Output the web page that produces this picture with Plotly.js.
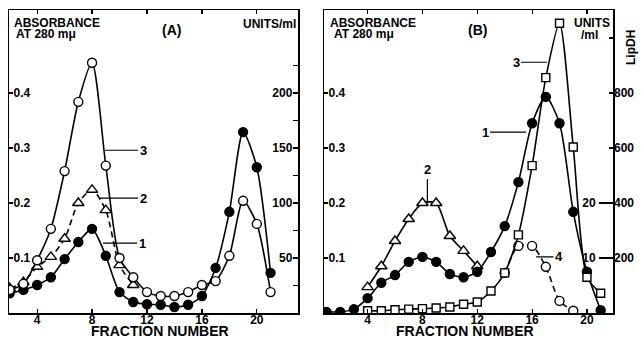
<!DOCTYPE html>
<html><head><meta charset="utf-8">
<script src="https://cdn.plot.ly/plotly-3.0.1.min.js"></script>
<style>html,body{margin:0;padding:0;background:#fff}#c{width:642px;height:341px}</style>
</head><body><div id="c"></div>
<script>
// Panel A (absorbance-scale values, fraction number)
const fracA = [2,3,4,5,6,7,8,9,10,11,12,13,14,15,16,17,18,19,20,21];
const a1 = [0.036,0.042,0.051,0.065,0.098,0.129,0.153,0.104,0.038,0.020,0.016,0.015,0.011,0.015,0.031,0.082,0.184,0.329,0.265,0.073];
const a3 = [0.042,0.053,0.096,0.153,0.258,0.384,0.455,0.268,0.100,0.065,0.038,0.031,0.031,0.038,0.051,0.058,0.104,0.204,0.162,0.038];
const fracA2 = [2,3,4,5,6,7,8,9,10,11];
const a2 = [0.045,0.056,0.084,0.102,0.135,0.200,0.224,0.187,0.087,0.051];
// Panel B
const fracB1 = [1,2,3,4,5,6,7,8,9,10,11,12,13,14,15,16,17,18,19,20,21];
const b1 = [0.002,0.002,0.007,0.027,0.055,0.069,0.093,0.102,0.093,0.071,0.065,0.075,0.111,0.158,0.238,0.345,0.393,0.345,0.184,0.075,0.005];
const fracB2 = [4,5,6,7,8,9,10,11,12];
const b2 = [0.047,0.085,0.131,0.171,0.200,0.200,0.140,0.113,0.085];
const fracB3 = [4,5,6,7,8,9,10,11,12,13,14,15,16,17,18,19,20,21];
const b3 = [0.004,0.004,0.006,0.007,0.008,0.009,0.011,0.016,0.020,0.040,0.073,0.142,0.268,0.428,0.527,0.302,0.065,0.036];
const fracB4 = [14,15,16,17,18,19];
const b4 = [0.073,0.122,0.122,0.084,0.022,0.004];

const xTicks = [4,8,12,16,20];
const absTicks = [0.1,0.2,0.3,0.4];
const unitTicksA = [25,50,75,100,125,150,175,200,225];
const unitTextA = ['','50','','100','','150','','200',''];
const lipTicks = [200,400,600,800,1000];
const lipText = ['200','400','600','800',''];
const s4Ticks = [10,20];

const W=642,H=341;
const px = v=>v/W, py = v=>1-v/H;
const yDom=[py(313),py(10)];
const F='Liberation Sans, Arial, sans-serif';
const tf={family:F,size:12,color:'#000'};
const B = a=>a.map(v=>v===''?'':'<b>'+v+'</b>');

function tr(x,y,xa,ya,sym,fill,dash,size){
  return {x:x,y:y,xaxis:xa,yaxis:ya,type:'scatter',mode:'lines+markers',
    line:{color:'#000',width:1.6,shape:'spline',smoothing:0.7,dash:dash||'solid'},
    marker:{symbol:sym,size:size||9,color:fill,line:{color:'#000',width:1.4}},
    hoverinfo:'skip',showlegend:false};
}
const data=[
  tr(fracA2,a2,'x','y','triangle-up','#fff','6px,4px',10),
  tr(fracA,a1,'x','y','circle','#000'),
  tr(fracA,a3,'x','y','circle','#fff'),
  {x:[],y:[],xaxis:'x',yaxis:'y2',type:'scatter',showlegend:false},
  tr(fracB2,b2,'x2','y3','triangle-up','#fff','solid',10),
  tr(fracB4,b4,'x2','y3','circle','#fff','6px,4px'),
  tr(fracB1,b1,'x2','y3','circle','#000'),
  tr(fracB3,b3,'x2','y3','square','#fff','solid',8),
  {x:[],y:[],xaxis:'x2',yaxis:'y4',type:'scatter',showlegend:false},
  {x:[],y:[],xaxis:'x2',yaxis:'y5',type:'scatter',showlegend:false}
];
const xBase={showgrid:false,zeroline:false,showline:true,linecolor:'#000',linewidth:1.5,mirror:'ticks',
  ticks:'inside',ticklen:4,tickwidth:1.2,tickcolor:'#000',tickvals:xTicks,ticktext:B(xTicks),
  tickfont:{family:F,size:12,color:'#000'},ticklabelstandoff:-5};
const yBase={showgrid:false,zeroline:false,showline:true,linecolor:'#000',linewidth:1.5,mirror:true,
  ticks:'inside',ticklen:4,tickwidth:1.2,tickcolor:'#000',tickvals:absTicks,ticktext:B(absTicks),
  ticklabelposition:'inside',tickfont:tf,range:[0,0.551],domain:yDom};
const layout={width:W,height:H,margin:{l:0,r:0,t:0,b:0},paper_bgcolor:'#fff',plot_bgcolor:'rgba(0,0,0,0)',
  font:{family:F,color:'#000'},
  xaxis:Object.assign({},xBase,{domain:[px(9),px(298)],range:[1.95,23],anchor:'y'}),
  yaxis:Object.assign({},yBase,{anchor:'x'}),
  yaxis2:{overlaying:'y',side:'right',anchor:'x',range:[0,275.5],showgrid:false,zeroline:false,showline:false,
    ticks:'inside',ticklen:5,tickwidth:1.2,tickcolor:'#000',tickvals:unitTicksA,ticktext:B(unitTextA),
    ticklabelposition:'inside',tickfont:tf},
  xaxis2:Object.assign({},xBase,{domain:[px(324),px(613)],range:[0.82,21.9],anchor:'y3'}),
  yaxis3:Object.assign({},yBase,{anchor:'x2'}),
  yaxis4:{overlaying:'y3',side:'right',anchor:'x2',range:[0,1102],showgrid:false,zeroline:false,showline:false,
    ticks:'inside',ticklen:4,tickwidth:1.2,tickcolor:'#000',tickvals:lipTicks,ticktext:B(lipText),tickfont:tf},
  yaxis5:{overlaying:'y3',side:'left',anchor:'free',position:px(613),range:[0,55.1],showgrid:false,zeroline:false,showline:false,
    ticks:'outside',ticklen:14,tickwidth:1.2,tickcolor:'#000',tickvals:s4Ticks,ticktext:B(s4Ticks),tickfont:tf,ticklabelstandoff:1},
  annotations:[]
};
function txt(x,y,t,opt){return Object.assign({xref:'paper',yref:'paper',x:px(x),y:py(y),text:t,showarrow:false,
  font:{family:F,size:12,color:'#000'},xanchor:'left',yanchor:'middle'},opt||{});}
layout.annotations.push(
  txt(12,23,'<b>ABSORBANCE</b>'), txt(14,34,'<b>AT 280 mμ</b>'),
  txt(172,30,'<b>(A)</b>',{xanchor:'center',font:{family:F,size:14,color:'#000'}}),
  txt(298,24,'<b>UNITS/ml</b>',{xanchor:'right'}),
  txt(328,23,'<b>ABSORBANCE</b>'), txt(332,34,'<b>AT 280 mμ</b>'),
  txt(477,30,'<b>(B)</b>',{xanchor:'center',font:{family:F,size:14,color:'#000'}}),
  txt(612,23,'<b>UNITS</b>',{xanchor:'right'}), txt(600,35,'<b>/ml</b>',{xanchor:'right'}),
  txt(631,48,'<b>LipDH</b>',{xanchor:'center',textangle:-90}),
  txt(160,341,'<b>FRACTION NUMBER</b>',{xanchor:'center',yanchor:'bottom',font:{family:F,size:14,color:'#000'}}),
  txt(465,341,'<b>FRACTION NUMBER</b>',{xanchor:'center',yanchor:'bottom',font:{family:F,size:14,color:'#000'}})
);
function lab(xa,ya,x,y,t,ax,ay){return {xref:xa,yref:ya,x:x,y:y,text:'<b>'+t+'</b>',showarrow:true,arrowhead:0,
  arrowwidth:1.2,arrowcolor:'#000',ax:ax,ay:ay,standoff:0,startstandoff:0,font:{family:F,size:13,color:'#000'}};}
layout.annotations.push(
  lab('x','y',8.95,0.296,'3',38,0),
  lab('x','y',8.58,0.209,'2',43,0),
  lab('x','y',8.8,0.127,'1',39,0),
  lab('x2','y3',8.36,0.202,'2',0,-32),
  lab('x2','y3',16.29,0.102,'4',23,0),
  lab('x2','y3',15.56,0.329,'1',-41,0),
  lab('x2','y3',17.09,0.456,'3',-31,0)
);
Plotly.newPlot('c',data,layout,{staticPlot:true});
</script></body></html>
